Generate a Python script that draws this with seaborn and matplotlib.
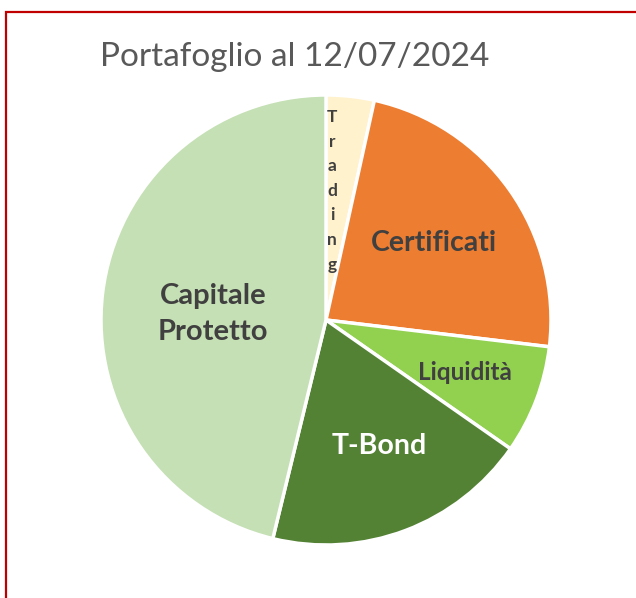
import matplotlib
matplotlib.use("Agg")
import matplotlib.pyplot as plt
import seaborn as sns
import numpy as np
from matplotlib.patches import Rectangle

categories = ["Trading", "Certificati", "Liquidità", "T-Bond", "Capitale Protetto"]
values = [3.45, 23.45, 7.8, 19.1, 46.2]
colors = ["#FFF2CC", "#ED7D31", "#92D050", "#548235", "#C5E0B4"]
title = "Portafoglio al 12/07/2024"

sns.set_theme(style="white")
plt.rcParams['font.family'] = ['Lato', 'DejaVu Sans']

fig = plt.figure(figsize=(6.36, 5.98), dpi=100)
fig.patch.set_facecolor("white")

# outer red frame (extends past right/bottom edge)
fig.patches.append(Rectangle((6/636, -0.1), 1.2, (598-12)/598 + 0.1,
                             transform=fig.transFigure, fill=False,
                             edgecolor="#C00000", linewidth=1.6))

ax = fig.add_axes([(326-225)/636, (598-545)/598, 450/636, 450/598])
wedges, _ = ax.pie(values, colors=colors, startangle=90, counterclock=False,
                   radius=1, wedgeprops=dict(edgecolor="white", linewidth=2.5))
ax.set_xlim(-1, 1)
ax.set_ylim(-1, 1)
ax.set_aspect("equal")
ax.axis("off")

label_text = ["\n".join("Trading"), "Certificati", "Liquidità", "T-Bond", "Capitale\nProtetto"]
label_r = [0.575, 0.59, 0.66, 0.608, 0.503]
label_f = [0.22, 0.5, 0.5, 0.47, 0.477]   # fraction of wedge span measured from its clockwise-start edge
label_size = [12.5, 20.5, 17.5, 20.5, 21]
label_color = ["#404040", "#404040", "#404040", "white", "#404040"]
label_ls = [1.66, 1.2, 1.2, 1.2, 1.45]
for w, t, r, f, s, c, ls in zip(wedges, label_text, label_r, label_f, label_size, label_color, label_ls):
    th = np.deg2rad(w.theta2 - f * (w.theta2 - w.theta1))
    ax.text(r * np.cos(th), r * np.sin(th), t, ha="center", va="center",
            fontsize=s, fontweight="bold", color=c, linespacing=ls)

fig.text(295/636, 1 - 57/598, title, ha="center", va="center",
         fontsize=24, color="#595959")

fig.savefig("out.png", dpi=100, facecolor="white")
